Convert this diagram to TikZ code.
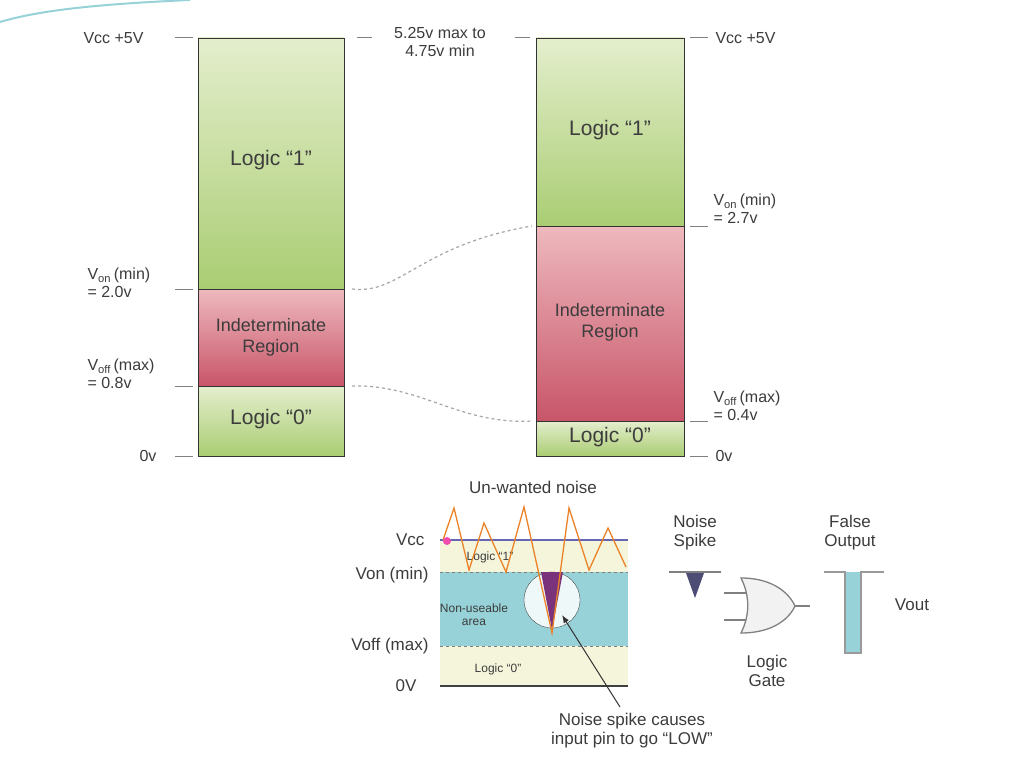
\documentclass[tikz,border=0pt]{standalone}
\usepackage{fontspec}
\setmainfont{Liberation Sans}
\usetikzlibrary{arrows.meta}
\definecolor{gl}{RGB}{228,238,205}
\definecolor{gd}{RGB}{170,205,115}
\definecolor{rl}{RGB}{238,185,190}
\definecolor{rd}{RGB}{200,85,105}
\definecolor{teal}{RGB}{150,210,215}
\definecolor{ylw}{RGB}{245,245,220}
\definecolor{orng}{RGB}{235,130,40}
\definecolor{txt}{RGB}{60,60,60}
\tikzset{
 big/.style={font=\fontsize{21}{23}\selectfont,text=txt,align=center},
 lbl/.style={font=\fontsize{16}{18}\selectfont,text=txt,align=left},
 sm/.style={font=\fontsize{17}{19}\selectfont,text=txt,align=center},
 tiny/.style={font=\fontsize{12}{13}\selectfont,text=txt,align=center},
 tick/.style={gray,line width=1pt},
 conn/.style={gray!70,dashed,line width=1.2pt},
 bar/.style={draw=black!80,line width=0.8pt}
}
\begin{document}
\begin{tikzpicture}[x=1pt,y=-1pt]
\useasboundingbox (0,0) rectangle (1024,768);
\fill[white] (0,0) rectangle (1024,768);
\draw[teal,line width=2pt] (0,22) .. controls (40,10) and (100,4) .. (190,0);
% left bar
\shade[top color=gl,bottom color=gd] (198,38) rectangle (344,289);
\shade[top color=rl,bottom color=rd] (198,289) rectangle (344,386);
\shade[top color=gl,bottom color=gd] (198,386) rectangle (344,456);
\draw[bar] (198,38) rectangle (344,456);
\draw[bar] (198,289)--(344,289) (198,386)--(344,386);
\node[big] (l1) at (271,160) {Logic “1”};
\node[big,font=\fontsize{18}{21}\selectfont] (li) at (271,337) {Indeterminate\\Region};
\node[big] (l0) at (271,419) {Logic “0”};
% right bar
\shade[top color=gl,bottom color=gd] (536,38) rectangle (684,226);
\shade[top color=rl,bottom color=rd] (536,226) rectangle (684,421);
\shade[top color=gl,bottom color=gd] (536,421) rectangle (684,456);
\draw[bar] (536,38) rectangle (684,456);
\draw[bar] (536,226)--(684,226) (536,421)--(684,421);
\node[big] (r1) at (610,130) {Logic “1”};
\node[big,font=\fontsize{18}{21}\selectfont] (ri) at (610,322) {Indeterminate\\Region};
\node[big] (r0) at (610,437) {Logic “0”};
% ticks
\foreach \y in {38,289,386,456} \draw[tick] (175,\y)--(193,\y);
\foreach \y in {38,226,421,456} \draw[tick] (690,\y)--(708,\y);
\draw[tick] (357,38)--(372,38) (515,38)--(530,38);
% labels
\node[lbl,anchor=west] (a1) at (80,38) {Vcc +5V};
\node[lbl,anchor=west] (a2) at (84,283) {V\textsubscript{on}\,(min)\\= 2.0v};
\node[lbl,anchor=west] (a3) at (84,374) {V\textsubscript{off}\,(max)\\= 0.8v};
\node[lbl,anchor=west] (a4) at (136,456) {0v};
\node[lbl,anchor=west] (b1) at (712,38) {Vcc +5V};
\node[lbl,anchor=west] (b2) at (710,209) {V\textsubscript{on}\,(min)\\= 2.7v};
\node[lbl,anchor=west] (b3) at (710,406) {V\textsubscript{off}\,(max)\\= 0.4v};
\node[lbl,anchor=west] (b4) at (712,456) {0v};
\node[lbl,align=center] (mid) at (440,42) {5.25v max to\\4.75v min};
\coordinate (c1) at (352,289); \coordinate (c2) at (532,226);
\coordinate (c3) at (352,386); \coordinate (c4) at (532,421);
\draw[conn] (c1) .. controls (400,295) and (420,245) .. (c2);
\draw[conn] (c3) .. controls (420,384) and (460,425) .. (c4);
% noise panel
\fill[ylw] (440,540) rectangle (628,686);
\fill[teal] (440,572) rectangle (628,646);
\draw[gray,dashed,line width=1pt] (440,572)--(628,572) (440,646)--(628,646);
\draw[black!75,line width=2.5pt] (440,686)--(628,686);
\draw[black!50!blue!60,line width=2pt] (440,540)--(628,540);
\node[tiny] (n1) at (490,557) {Logic “1”};
\node[tiny] (n2) at (474,615) {Non-useable\\area};
\node[tiny] (n0) at (498,669) {Logic “0”};
\node[circle,draw=black!70,fill=white!85!teal,minimum size=56pt,inner sep=0] (circ) at (552,600) {};
\fill[violet!70!black!80] (541,572)--(563,572)--(552,630)--cycle;
\draw[orng,line width=1.3pt] (443,540)--(454,508)--(469,570)--(484,523)--(506,572)--(524,507)--(552,633)--(569,508)--(589,570)--(608,528)--(626,567);
\fill[magenta!70] (447,541) circle (4pt);
\node[sm] (un) at (533,487) {Un-wanted noise};
\node[sm,anchor=east] (v1) at (428,540) {Vcc};
\node[sm,anchor=east] (v2) at (432,575) {Von (min)};
\node[sm,anchor=east] (v3) at (432,646) {Voff (max)};
\node[sm,anchor=east] (v4) at (420,686) {0V};
\node[sm] (cap) at (632,731) {Noise spike causes\\input pin to go “LOW”};
\coordinate (as) at (620,707); \coordinate (ae) at (562,615);
\draw[-{Latex[length=8pt]},black!80,line width=1pt] (as) -- (ae);
% noise spike
\draw[gray,line width=2pt] (669,572)--(721,572);
\fill[black!60!blue!40!gray] (686,573)--(704,573)--(695,598)--cycle;
\node[sm] (ns) at (695,533) {Noise\\Spike};
% OR gate
\draw[gray,line width=1.3pt,fill=gray!10] (741,578) .. controls (775,578) and (790,595) .. (795,606)
  .. controls (790,617) and (775,633) .. (741,633) .. controls (750,615) and (750,596) .. cycle;
\draw[gray,line width=1.3pt] (724,593)--(746,593) (724,620)--(746,620) (795,606)--(810,606);
\node[sm] (lg) at (767,671) {Logic\\Gate};
% false output
\draw[gray!80,line width=2.2pt,fill=teal] (824,572)--(845,572)--(845,653)--(861,653)--(861,572)--(884,572);
\node[sm] (fo) at (850,533) {False\\Output};
\node[sm] (vo) at (912,605) {Vout};
\end{tikzpicture}
\end{document}
